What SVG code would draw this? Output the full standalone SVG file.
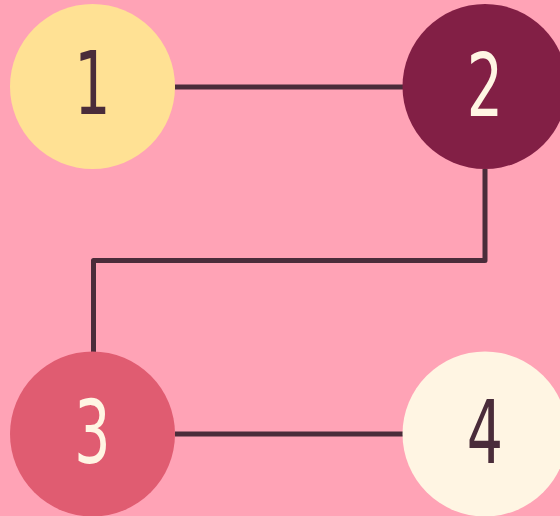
<svg xmlns="http://www.w3.org/2000/svg" width="560" height="516" viewBox="0 0 560 516">
<style>
.edge{fill:none;stroke:#4a2c3a;stroke-width:5;stroke-linejoin:round}
.lbl{font-family:"DejaVu Sans Condensed","DejaVu Sans",sans-serif;font-size:88px;text-anchor:middle}
.dark{fill:#4a2c3a}
.light{fill:#fff5e3}
</style>
<rect width="560" height="516" fill="#ffa3b6"/>
<g id="connectors">
<path class="edge" d="M175 87H403"/>
<path class="edge" d="M485 169V260.5H93.5V352"/>
<path class="edge" d="M175 434H403"/>
</g>
<g id="node1">
<circle cx="92.5" cy="86.5" r="82.5" fill="#ffe194"/>
<text class="lbl dark" transform="translate(92.5,114) scale(0.72,1)">1</text>
</g>
<g id="node2">
<circle cx="485" cy="86.5" r="82.5" fill="#821f45"/>
<text class="lbl light" transform="translate(485,116) scale(0.72,1)">2</text>
</g>
<g id="node3">
<circle cx="92.5" cy="434" r="82.5" fill="#e05c71"/>
<text class="lbl light" transform="translate(92.5,463) scale(0.72,1)">3</text>
</g>
<g id="node4">
<circle cx="485" cy="434" r="82.5" fill="#fff5e3"/>
<text class="lbl dark" transform="translate(485,463) scale(0.72,1)">4</text>
</g>
</svg>
